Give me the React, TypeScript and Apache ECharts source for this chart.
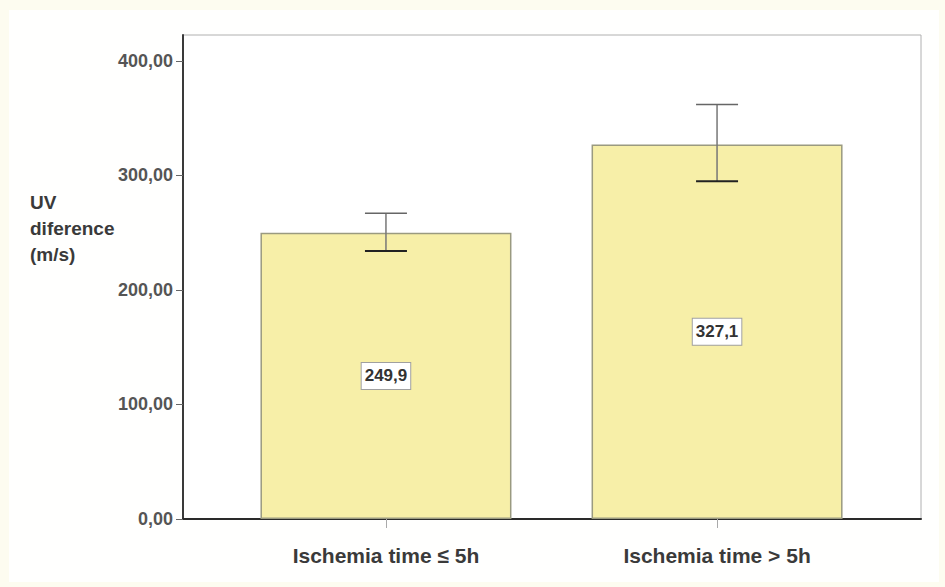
import React, { useEffect, useRef } from "react";
import * as echarts from "echarts";

const categories = ["Ischemia time \u2264 5h", "Ischemia time > 5h"];
const means = [249.9, 327.1];
const lowerCI = [234, 295];
const upperCI = [267, 362];
const yTicks = [0, 100, 200, 300, 400];

const SANS = "'Liberation Sans', Arial, sans-serif";

export default function App() {
  const ref = useRef<HTMLDivElement>(null);
  useEffect(() => {
    if (!ref.current) return;
    const chart = echarts.init(ref.current, null, { renderer: "svg" });
    const xs = categories.map((_, i) => i);
    chart.setOption({
      animation: false,
      backgroundColor: "#fdfcf0",
      graphic: [
        { type: "rect", shape: { x: 9, y: 10, width: 930, height: 572 }, style: { fill: "#fffffe" }, z: -10 },
        {
          type: "text",
          left: 30,
          top: 189,
          style: {
            text: "UV\ndiference\n(m/s)",
            font: "bold 19px " + SANS,
            fill: "#3a3a3a",
            lineHeight: 26,
          },
        },
      ],
      grid: {
        left: 183,
        right: 24,
        top: 35,
        bottom: 68,
        show: true,
        borderColor: "#b0b0b0",
        borderWidth: 1,
        backgroundColor: "#ffffff",
      },
      xAxis: {
        type: "value",
        min: -0.613,
        max: 1.616,
        splitLine: { show: false },
        axisLine: { show: true, onZero: false, lineStyle: { color: "#2a2a2a", width: 2 } },
        axisTick: { show: true, customValues: xs, length: 9, lineStyle: { color: "#aaaaaa" } },
        axisLabel: {
          customValues: xs,
          formatter: (v: number) => categories[Math.round(v)] ?? "",
          margin: 26,
          color: "#3a3a3a",
          fontWeight: "bold",
          fontSize: 21,
          fontFamily: SANS,
        },
      },
      yAxis: {
        type: "value",
        min: 0,
        max: 422.7,
        interval: 100,
        splitLine: { show: false },
        axisLine: { show: true, onZero: false, lineStyle: { color: "#3a3a3a", width: 2 } },
        axisTick: { show: true, customValues: yTicks, length: 7, lineStyle: { color: "#666" } },
        axisLabel: {
          customValues: yTicks,
          formatter: (v: number) => v.toFixed(2).replace(".", ","),
          margin: 10,
          color: "#555555",
          fontWeight: "bold",
          fontSize: 18,
          fontFamily: SANS,
        },
      },
      series: [
        {
          type: "bar",
          barWidth: 251,
          data: means.map((m, i) => [i, m]),
          itemStyle: { color: "#f7efa8", borderColor: "#9a9a80", borderWidth: 1.5 },
          label: {
            show: true,
            position: "inside",
            formatter: (p: any) => p.value[1].toFixed(1).replace(".", ","),
            color: "#333333",
            fontWeight: "bold",
            fontSize: 17,
            fontFamily: SANS,
            backgroundColor: "#ffffff",
            borderColor: "#a0a0a0",
            borderWidth: 1,
            padding: [5, 3, 4, 3],
          },
          z: 2,
        },
        {
          type: "custom",
          z: 5,
          data: means.map((_, i) => [i, lowerCI[i], upperCI[i]]),
          renderItem: (params: any, api: any) => {
            const x = api.value(0);
            const lo = api.coord([x, api.value(1)]);
            const hi = api.coord([x, api.value(2)]);
            const half = 21;
            return {
              type: "group",
              children: [
                { type: "line", shape: { x1: hi[0], y1: hi[1], x2: lo[0], y2: lo[1] }, style: { stroke: "#777", lineWidth: 1.5 } },
                { type: "line", shape: { x1: hi[0] - half, y1: hi[1], x2: hi[0] + half, y2: hi[1] }, style: { stroke: "#666", lineWidth: 1.5 } },
                { type: "line", shape: { x1: lo[0] - half, y1: lo[1], x2: lo[0] + half, y2: lo[1] }, style: { stroke: "#222", lineWidth: 2 } },
              ],
            };
          },
        },
      ],
    });
    return () => chart.dispose();
  }, []);
  return <div ref={ref} style={{ position: "fixed", left: 0, top: 0, width: 945, height: 587 }} />;
}
